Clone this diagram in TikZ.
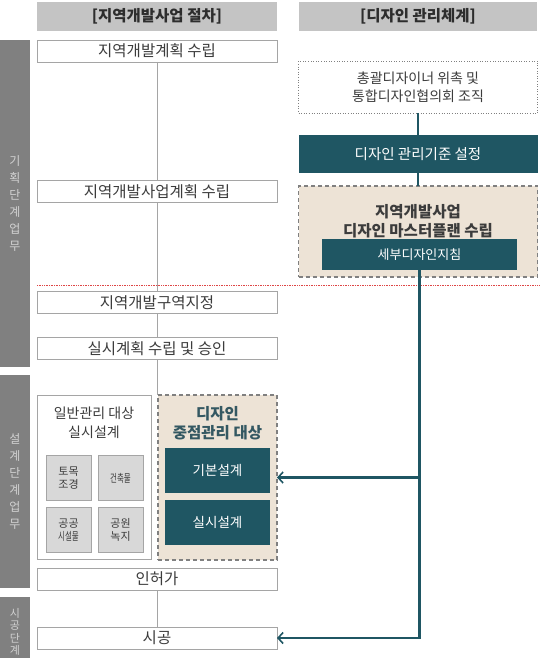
\documentclass[tikz,border=0pt]{standalone}
\usepackage{fontspec}
\setmainfont{Noto Sans CJK KR}
\usetikzlibrary{arrows.meta}

\definecolor{deepteal}{RGB}{31,86,99}
\definecolor{sand}{RGB}{237,227,214}
\definecolor{hdrgray}{RGB}{196,196,196}
\definecolor{bargray}{RGB}{128,128,128}
\definecolor{bartext}{RGB}{210,210,210}
\definecolor{edgegray}{RGB}{165,165,165}
\definecolor{chipgray}{RGB}{216,216,216}
\definecolor{inkgray}{RGB}{60,60,60}
\definecolor{inkdark}{RGB}{45,45,45}
\definecolor{tealink}{RGB}{52,88,98}
\definecolor{dashred}{RGB}{222,70,70}

\begin{document}
\begin{tikzpicture}
            [x=1pt, y=-1pt, every node/.style={inner sep=0, outer sep=0, align=center},
             headbox/.style={fill=hdrgray, minimum height=29pt, font=\fontsize{15.5}{17}\selectfont\bfseries, text=inkdark},
             stagebar/.style={fill=bargray, minimum width=30pt, text=bartext, font=\fontsize{12}{17}\selectfont},
             stepbox/.style={draw=edgegray, line width=0.8pt, fill=white, minimum width=240pt, minimum height=22pt, font=\fontsize{15.5}{17}\selectfont, text=inkgray},
             chipbox/.style={draw=edgegray, line width=0.6pt, fill=chipgray, minimum width=45pt, minimum height=45pt, font=\fontsize{11}{13}\selectfont, text=inkgray},
             sandbox/.style={draw=bargray, line width=1.4pt, dash pattern=on 4pt off 3pt, fill=sand},
             tealbox/.style={fill=deepteal, text=white},
             link/.style={draw=deepteal, line width=1.4pt},
             feed/.style={draw=deepteal, line width=2.2pt, -{Straight Barb[length=5pt, width=11pt, line width=1.6pt]}}]

            \useasboundingbox (0,0) rectangle (540,658);

            \node[headbox, minimum width=240pt] (h1) at (157,16.5) {[지역개발사업 절차]};
            \node[headbox, minimum width=238pt] (h2) at (418,16.5) {[디자인 관리체계]};

            \node[stagebar, minimum height=327pt] (b1) at (15,203.5) {기\\획\\단\\계\\업\\무};
            \node[stagebar, minimum height=213pt] (b2) at (15,481.5) {설\\계\\단\\계\\업\\무};
            \node[stagebar, minimum height=70pt, font=\fontsize{11}{12.5}\selectfont] (b3) at (15,632) {시\\공\\단\\계};

            \node[stepbox] (p1) at (157,51) {지역개발계획 수립};
            \node[stepbox] (p2) at (157,191.5) {지역개발사업계획 수립};
            \node[stepbox] (p3) at (157,302.5) {지역개발구역지정};
            \node[stepbox] (p4) at (157,348.5) {실시계획 수립 및 승인};

            \node[draw=edgegray, line width=0.8pt, fill=white, minimum width=114pt, minimum height=164pt] (g0) at (94,477) {};
            \node[font=\fontsize{14}{19}\selectfont, text=inkgray] (g1) at (94,423) {일반관리 대상\\실시설계};
            \node[chipbox] (c1) at (68.5,478) {토목\\조경};
            \node[chipbox] (c2) at (120.5,478) {\scalebox{0.68}[1]{건축물}};
            \node[chipbox] (c3) at (68.5,530) {공공\\\scalebox{0.68}[1]{시설물}};
            \node[chipbox] (c4) at (120.5,530) {공원\\녹지};

            \node[sandbox, minimum width=119pt, minimum height=165pt] (f0) at (217.5,477.5) {};
            \node[font=\fontsize{15.5}{19}\selectfont\bfseries, text=tealink] (f1) at (217.5,423) {디자인\\중점관리 대상};
            \node[tealbox, minimum width=105pt, minimum height=45pt, font=\fontsize{13.5}{15}\selectfont] (f2) at (217.5,470.5) {기본설계};
            \node[tealbox, minimum width=105pt, minimum height=45pt, font=\fontsize{13.5}{15}\selectfont] (f3) at (217.5,522.5) {실시설계};

            \node[stepbox] (p5) at (157,579) {인허가};
            \node[stepbox] (p6) at (157,638) {시공};

            \node[draw=bargray, line width=0.6pt, dotted, fill=white, minimum width=239pt, minimum height=52pt, font=\fontsize{14}{18}\selectfont, text=inkgray] (d1) at (418,87) {총괄디자이너 위촉 및\\통합디자인협의회 조직};
            \node[tealbox, minimum width=239pt, minimum height=38pt, font=\fontsize{14.5}{16}\selectfont] (d2) at (418,154) {디자인 관리기준 설정};
            \node[sandbox, minimum width=239pt, minimum height=91pt] (d3) at (418,231.5) {};
            \node[font=\fontsize{15.5}{19}\selectfont\bfseries, text=inkgray] (d3t) at (418,221) {지역개발사업\\디자인 마스터플랜 수립};
            \node[tealbox, minimum width=195pt, minimum height=31pt, font=\fontsize{13}{15}\selectfont] (d4) at (419.5,254.5) {세부디자인지침};

            \coordinate (r1) at (37,285);
            \coordinate (r2) at (540,285);
            \coordinate (q1) at (157,395);
            \coordinate (j1) at (418,477.5);

            \draw[edgegray, line width=0.8pt] (p1) -- (p2);
            \draw[edgegray, line width=0.8pt] (p2) -- (p3);
            \draw[edgegray, line width=0.8pt] (p3) -- (p4);
            \draw[edgegray, line width=0.8pt] (p4) -- (q1);
            \draw[edgegray, line width=0.8pt] (p5) -- (p6);
            \draw[dashred, line width=0.7pt, densely dotted] (r1) -- (r2);
            \draw[link] (d1) -- (d2);
            \draw[link] (d2) -- (d3);
            \draw[feed] (d4.south) |- (p6.east);
            \draw[feed] (j1) -- (f0.east);
          \end{tikzpicture}
\end{document}
